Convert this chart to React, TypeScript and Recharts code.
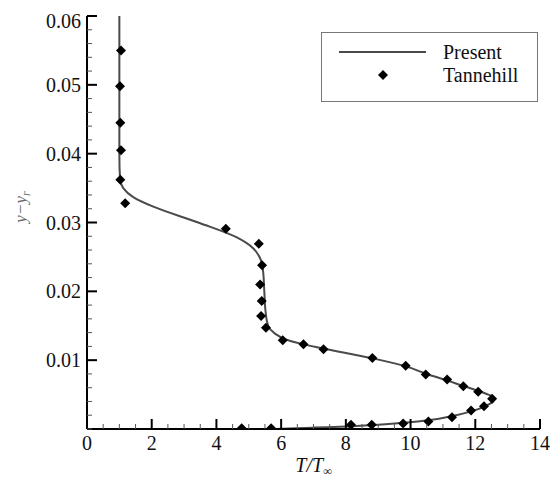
import { ComposedChart, Line, Scatter, XAxis, YAxis, Label } from "recharts";

// Tannehill reference points (T/Tinf, y - yr)
const tannehillT = [
  1.05, 1.02, 1.03, 1.05, 1.03, 1.18, 4.29, 5.31, 5.41, 5.35, 5.4, 5.38, 5.53, 6.05, 6.69, 7.31,
  8.82, 9.85, 10.47, 11.13, 11.63, 12.09, 12.52, 12.27, 11.87, 11.28, 10.55, 9.77, 8.8, 8.16,
  5.69, 4.78,
];
const tannehillY = [
  0.055, 0.0498, 0.0445, 0.0405, 0.0362, 0.0328, 0.0291, 0.0269, 0.0238, 0.021, 0.0186, 0.0164,
  0.0147, 0.0129, 0.0123, 0.0116, 0.0103, 0.0092, 0.0079, 0.0072, 0.0062, 0.0054, 0.0044,
  0.0033, 0.0027, 0.0017, 0.0011, 0.0008, 0.0006, 0.0006, 0.0001, 0.0001,
];

// present computation (curve), ordered by increasing y
const presentT = [
  5.8, 7.0, 8.2, 9.0, 9.8, 10.6, 11.3, 11.9, 12.3, 12.55, 12.6, 12.4, 12.05, 11.6, 11.1, 10.5,
  9.85, 8.8, 7.3, 6.6, 6.15, 5.8, 5.6, 5.52, 5.48, 5.44, 5.35, 5.15, 4.6, 3.5, 2.05, 1.43, 1.12,
  1.02, 1.0, 1.0,
];
const presentY = [
  0, 0.0002, 0.0004, 0.0006, 0.0009, 0.0013, 0.0019, 0.0026, 0.0033, 0.004, 0.0045, 0.005,
  0.0056, 0.0063, 0.0071, 0.008, 0.0091, 0.0103, 0.0117, 0.0124, 0.013, 0.0139, 0.015, 0.017,
  0.02, 0.023, 0.0248, 0.0262, 0.0279, 0.0299, 0.0323, 0.0337, 0.035, 0.0363, 0.04, 0.06,
];

const xTickLabels = [0, 2, 4, 6, 8, 10, 12, 14];
const yTickLabels = [0.01, 0.02, 0.03, 0.04, 0.05, 0.06];

const xTicks = Array.from({ length: 29 }, (_, i) => i * 0.5);
const yTicks = Array.from({ length: 31 }, (_, i) => +(i * 0.002).toFixed(3));

const points = tannehillT.map((t, i) => ({ t, y: tannehillY[i] }));
const curve = presentT.map((t, i) => ({ t, y: presentY[i] }));

const FONT = "'Liberation Serif', 'DejaVu Serif', serif";

function XTick(props: any) {
  const { x, y, payload } = props;
  const v = payload.value;
  const major = xTickLabels.includes(v);
  return (
    <g>
      <line x1={x} x2={x} y1={y} y2={y - (major ? 10 : 5)} stroke={major ? "#000" : "#555"} strokeWidth={major ? 2 : 1} />
      {major && (
        <text x={x} y={y + 21} textAnchor="middle" fontFamily={FONT} fontSize={20} fill="#111">
          {v}
        </text>
      )}
    </g>
  );
}

function YTick(props: any) {
  const { x, y, payload } = props;
  const v = payload.value;
  const major = yTickLabels.some((l) => Math.abs(l - v) < 1e-6);
  const ty = Math.max(y, 21);
  return (
    <g>
      <line x1={x} x2={x + (major ? 10 : 5)} y1={y} y2={y} stroke={major ? "#000" : "#555"} strokeWidth={major ? 2 : 1} />
      {major && (
        <text x={x - 6} y={ty + 7} textAnchor="end" fontFamily={FONT} fontSize={20} fill="#111">
          {v.toFixed(2)}
        </text>
      )}
    </g>
  );
}

const Diamond = (props: any) => {
  const { cx, cy } = props;
  const h = 5;
  return <polygon points={`${cx},${cy - h} ${cx + h},${cy} ${cx},${cy + h} ${cx - h},${cy}`} fill="#000" />;
};

export default function App() {
  return (
    <div style={{ position: "absolute", left: 0, top: 0, width: 558, height: 479, background: "#fff" }}>
      <ComposedChart width={558} height={479} margin={{ top: 16, right: 18, bottom: 10, left: 0 }}>
        <XAxis
          dataKey="t"
          type="number"
          domain={[0, 14]}
          ticks={xTicks}
          interval={0}
          height={40}
          tickSize={0}
          tickMargin={0}
          tickLine={false}
          axisLine={{ stroke: "#000", strokeWidth: 2 }}
          tick={<XTick />}
          allowDataOverflow
        >
          <Label
            content={(p: any) => {
              const vb = p.viewBox;
              return (
                <text x={vb.x + vb.width / 2} y={472} textAnchor="middle" fontFamily={FONT} fontSize={20} fontStyle="italic" fill="#111">
                  T/T
                  <tspan fontSize={12} dy={3}>∞</tspan>
                </text>
              );
            }}
          />
        </XAxis>
        <YAxis
          dataKey="y"
          type="number"
          domain={[0, 0.06]}
          ticks={yTicks}
          interval={0}
          width={87}
          tickSize={0}
          tickMargin={0}
          tickLine={false}
          axisLine={{ stroke: "#000", strokeWidth: 2 }}
          tick={<YTick />}
          allowDataOverflow
        >
          <Label
            content={() => (
              <text
                x={26}
                y={207}
                transform="rotate(-90 26 207)"
                textAnchor="middle"
                fontFamily={FONT}
                fontSize={17}
                fontStyle="italic"
                fill="#666"
              >
                y−y
                <tspan fontSize={12} dy={4}>r</tspan>
              </text>
            )}
          />
        </YAxis>
        <Line
          data={curve}
          dataKey="y"
          type="monotoneY"
          stroke="#4a4a4a"
          strokeWidth={2}
          dot={false}
          isAnimationActive={false}
        />
        <Scatter data={points} dataKey="y" fill="#000" shape={<Diamond />} isAnimationActive={false} />
      </ComposedChart>
      <svg width={558} height={479} style={{ position: "absolute", left: 0, top: 0, pointerEvents: "none" }}>
        <rect x={321.5} y={32.5} width={216} height={69} fill="#fff" stroke="#777" strokeWidth={1} />
        <line x1={339} x2={426} y1={52} y2={52} stroke="#4a4a4a" strokeWidth={2} />
        <text x={443} y={59} fontFamily={FONT} fontSize={20} fill="#111">Present</text>
        <polygon points="383,70 388,75 383,80 378,75" fill="#000" />
        <text x={443} y={82} fontFamily={FONT} fontSize={20} fill="#111">Tannehill</text>
      </svg>
    </div>
  );
}
